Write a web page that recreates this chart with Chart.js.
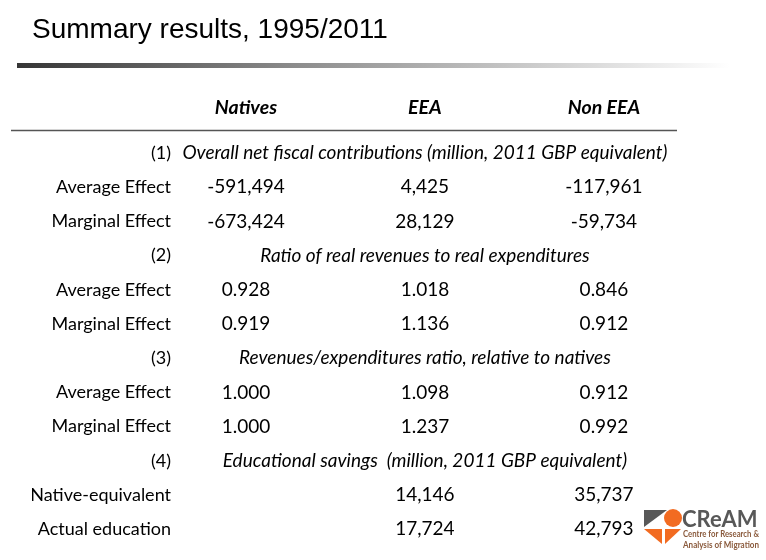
<!DOCTYPE html>
<html>
<head>
<meta charset="utf-8">
<script src="https://cdn.jsdelivr.net/npm/chart.js@4"></script>
<style>
  html, body { margin: 0; padding: 0; background: #fff; }
  canvas { display: block; }
</style>
</head>
<body>
<canvas id="summaryChart" width="766" height="560"></canvas>
<script>
// table contents
const columns = ['Natives', 'EEA', 'Non EEA'];
const rowLabels = ['(1)', 'Average Effect', 'Marginal Effect',
                   '(2)', 'Average Effect', 'Marginal Effect',
                   '(3)', 'Average Effect', 'Marginal Effect',
                   '(4)', 'Native-equivalent', 'Actual education'];
const sectionTitles = [
    'Overall net fiscal contributions (million, 2011 GBP equivalent)',
    'Ratio of real revenues to real expenditures',
    'Revenues/expenditures ratio, relative to natives',
    'Educational savings  (million, 2011 GBP equivalent)'
];
const netAverage = [-591494, 4425, -117961];
const netMarginal = [-673424, 28129, -59734];
const ratioAverage = [0.928, 1.018, 0.846];
const ratioMarginal = [0.919, 1.136, 0.912];
const relativeAverage = [1.000, 1.098, 0.912];
const relativeMarginal = [1.000, 1.237, 0.992];
const eduNativeEquivalent = [null, 14146, 35737];
const eduActual = [null, 17724, 42793];

// one entry per row of rowLabels, null for section header rows
const rowSeries = [null, netAverage, netMarginal,
                   null, ratioAverage, ratioMarginal,
                   null, relativeAverage, relativeMarginal,
                   null, eduNativeEquivalent, eduActual];

const FONT = 'Lato';

function formatValue(v) {
    return Math.abs(v) >= 100 ? v.toLocaleString('en-US') : v.toFixed(3);
}

const datasets = columns.map((name, c) => ({
    label: name,
    data: rowSeries.flatMap((s, r) => (s && s[c] != null) ? [{ x: c + 1, y: r, v: s[c] }] : []),
    pointRadius: 0,
    pointHoverRadius: 0
}));

const tablePlugin = {
    id: 'tableText',
    beforeDraw(chart) {
        const ctx = chart.ctx;
        ctx.save();
        // gradient rule under the title
        const g = ctx.createLinearGradient(17, 0, 730, 0);
        g.addColorStop(0, '#353535');
        g.addColorStop(0.4, '#8e8e8e');
        g.addColorStop(1, 'rgba(255,255,255,1)');
        ctx.fillStyle = g;
        ctx.fillRect(17, 63, 713, 5);
        // rule under column headers
        ctx.strokeStyle = '#555';
        ctx.lineWidth = 1.5;
        ctx.beginPath();
        ctx.moveTo(11, chart.chartArea.top - 5.5);
        ctx.lineTo(677, chart.chartArea.top - 5.5);
        ctx.stroke();
        ctx.restore();
    },
    afterDatasetsDraw(chart) {
        const ctx = chart.ctx;
        const xs = chart.scales.x, ys = chart.scales.y;
        ctx.save();
        ctx.fillStyle = '#000';
        ctx.textAlign = 'center';
        ctx.textBaseline = 'middle';
        // section titles, centred on the middle column
        ctx.font = 'italic 19px ' + FONT;
        let s = 0;
        rowLabels.forEach((lab, r) => {
            if (lab.startsWith('(')) {
                ctx.fillText(sectionTitles[s++], xs.getPixelForValue(2), ys.getPixelForValue(r));
            }
        });
        // cell values
        ctx.font = '19px ' + FONT;
        chart.data.datasets.forEach((ds, i) => {
            chart.getDatasetMeta(i).data.forEach((pt, j) => {
                ctx.fillText(formatValue(ds.data[j].v), pt.x, pt.y);
            });
        });
        ctx.restore();
    },
    afterDraw(chart) {
        // CReAM logo, bottom right
        const ctx = chart.ctx;
        ctx.save();
        ctx.fillStyle = '#585858';
        ctx.beginPath();
        ctx.moveTo(644, 510); ctx.lineTo(667, 510); ctx.lineTo(644, 527); ctx.closePath();
        ctx.fill();
        ctx.fillStyle = '#f26b21';
        ctx.beginPath();
        ctx.arc(673, 518, 9, 0, Math.PI * 2);
        ctx.fill();
        ctx.beginPath();
        ctx.moveTo(644, 529); ctx.lineTo(662, 529); ctx.lineTo(662, 544); ctx.closePath();
        ctx.fill();
        ctx.beginPath();
        ctx.moveTo(665, 529); ctx.lineTo(681, 529); ctx.lineTo(665, 544); ctx.closePath();
        ctx.fill();
        ctx.fillStyle = '#585858';
        ctx.textAlign = 'left';
        ctx.textBaseline = 'alphabetic';
        ctx.font = 'bold 22px ' + FONT;
        ctx.fillText('CReAM', 682, 527, 76);
        ctx.fillStyle = '#8a5a3c';
        ctx.font = 'bold 9px ' + FONT;
        ctx.fillText('Centre for Research &', 683, 537, 76);
        ctx.fillText('Analysis of Migration', 683, 548, 76);
        ctx.restore();
    }
};

new Chart(document.getElementById('summaryChart'), {
    type: 'scatter',
    data: { datasets: datasets },
    plugins: [tablePlugin],
    options: {
        responsive: false,
        animation: false,
        events: [],
        layout: { padding: { left: 32, right: 66, top: 0, bottom: 10 } },
        plugins: {
            legend: { display: false },
            tooltip: { enabled: false },
            title: {
                display: true,
                text: 'Summary results, 1995/2011',
                align: 'start',
                color: '#000',
                font: { family: 'Liberation Sans', size: 28, weight: 'normal' },
                padding: { top: 13, bottom: 49.4 }
            }
        },
        scales: {
            x: {
                type: 'linear',
                position: 'top',
                min: 0.598,
                max: 3.537,
                grid: { display: false, drawTicks: false },
                border: { display: false },
                afterBuildTicks: sc => { sc.ticks = columns.map((c, i) => ({ value: i + 1 })); },
                afterFit: sc => { sc.height = 40; },
                ticks: {
                    padding: 16.5,
                    color: '#000',
                    font: { family: FONT, size: 19.5, style: 'italic', weight: 'bold' },
                    callback: v => columns[v - 1]
                }
            },
            y: {
                type: 'linear',
                reverse: true,
                min: -0.5,
                max: rowLabels.length - 0.5,
                grid: { display: false, drawTicks: false },
                border: { display: false },
                afterBuildTicks: sc => { sc.ticks = rowLabels.map((l, i) => ({ value: i })); },
                afterFit: sc => { sc.width = 142; },
                ticks: {
                    padding: 3,
                    color: '#000',
                    font: { family: FONT, size: 18 },
                    callback: v => rowLabels[v]
                }
            }
        }
    }
});
</script>
</body>
</html>
